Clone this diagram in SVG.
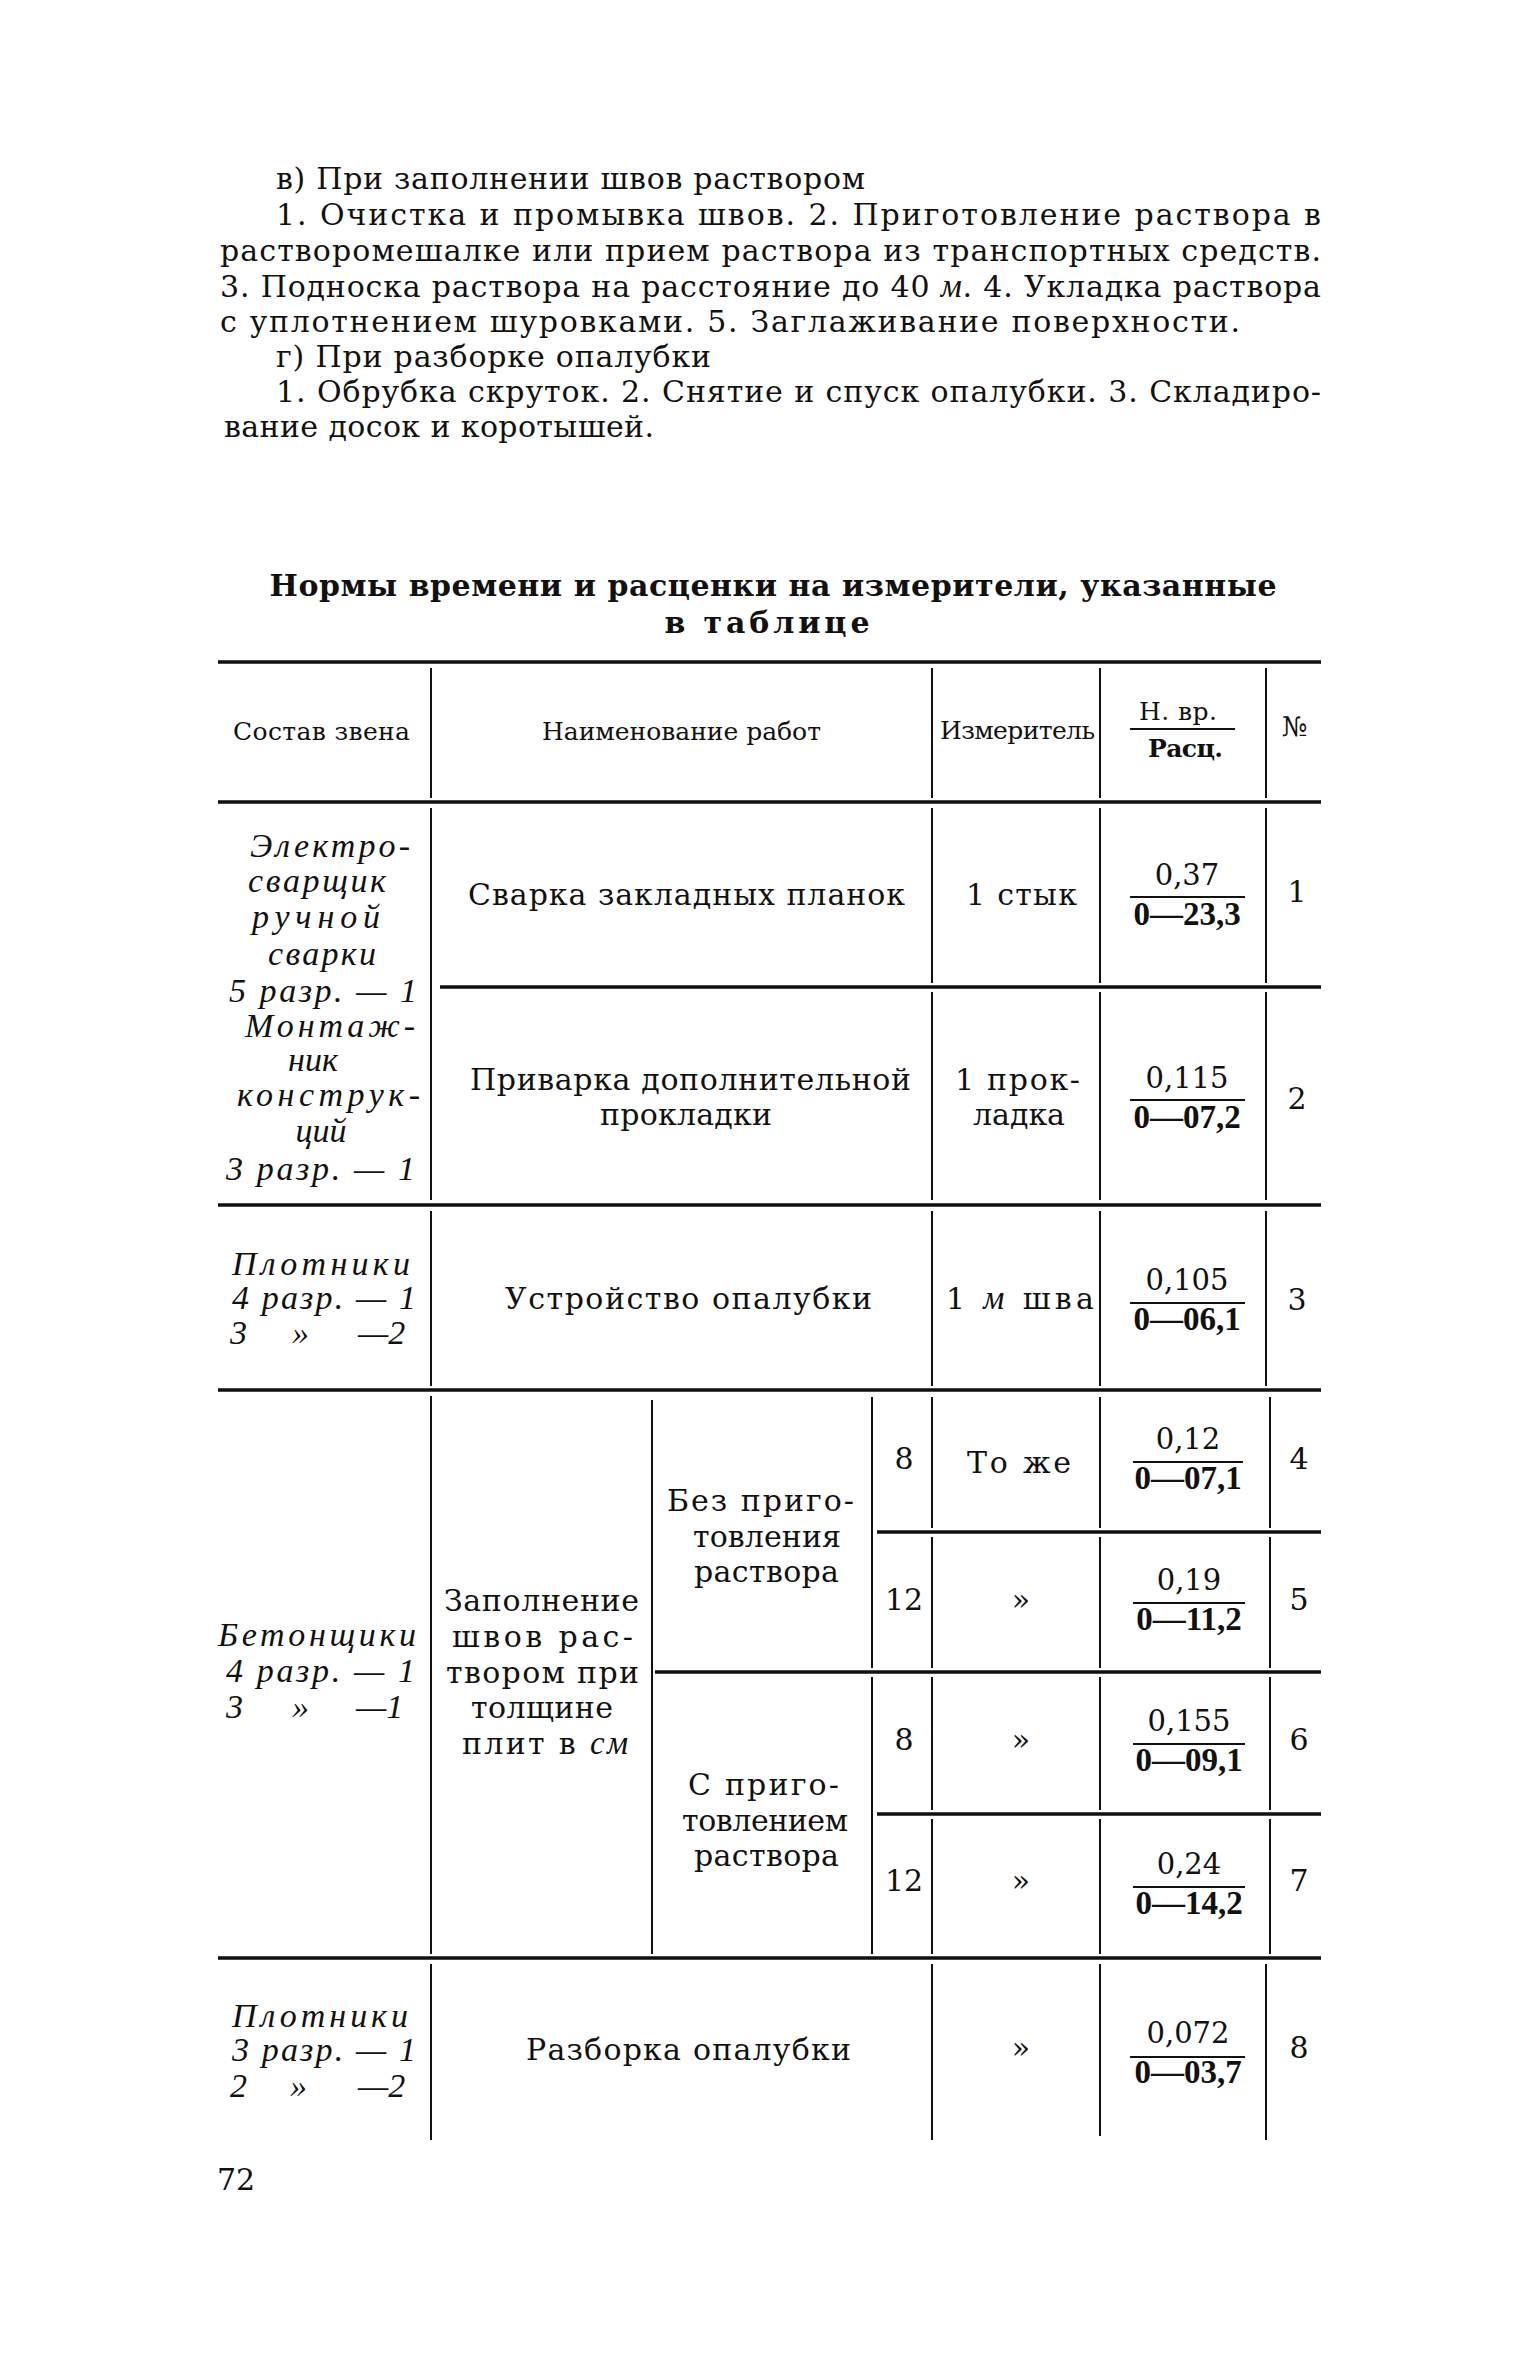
<svg xmlns="http://www.w3.org/2000/svg" width="1535" height="2362" viewBox="0 0 1535 2362">
<style>
text{fill:#111}
.p{font-family:"DejaVu Serif",serif;font-size:30px}
.t{font-family:"DejaVu Serif",serif;font-size:30px}
.h{font-family:"DejaVu Serif",serif;font-size:25px}
.hb{font-family:"DejaVu Serif",serif;font-size:25px;font-weight:bold}
.i{font-family:"Liberation Serif",serif;font-size:34px;font-style:italic}
.it{font-family:"Liberation Serif",serif;font-style:italic;font-size:33px}
.n{font-family:"DejaVu Serif",serif;font-size:29px;text-anchor:middle}
.b{font-family:"Liberation Serif",serif;font-size:33px;font-weight:bold;text-anchor:middle}
.c{text-anchor:middle}
.ttl{font-family:"DejaVu Serif",serif;font-size:30px;font-weight:bold;text-anchor:middle}
.hl{stroke:#111;stroke-width:3.5;fill:none}
.vl{stroke:#111;stroke-width:2;fill:none}
</style>
<rect width="1535" height="2362" fill="#fff"/>

<g id="paragraph">
<text class="p" x="276" y="189" textLength="589" lengthAdjust="spacing">в) При заполнении швов раствором</text>
<text class="p" x="276" y="225" textLength="1045" lengthAdjust="spacing">1. Очистка и промывка швов. 2. Приготовление раствора в</text>
<text class="p" x="220" y="261" textLength="1101" lengthAdjust="spacing">растворомешалке или прием раствора из транспортных средств.</text>
<text class="p" x="220" y="297" textLength="1101" lengthAdjust="spacing">3. Подноска раствора на расстояние до 40 <tspan class="it">м</tspan>. 4. Укладка раствора</text>
<text class="p" x="220" y="332" textLength="1020" lengthAdjust="spacing">с уплотнением шуровками. 5. Заглаживание поверхности.</text>
<text class="p" x="276" y="367" textLength="435" lengthAdjust="spacing">г) При разборке опалубки</text>
<text class="p" x="276" y="402" textLength="1045" lengthAdjust="spacing">1. Обрубка скруток. 2. Снятие и спуск опалубки. 3. Складиро-</text>
<text class="p" x="224" y="437" textLength="430" lengthAdjust="spacing">вание досок и коротышей.</text>
</g>

<g id="title">
<text class="ttl" x="773" y="596" textLength="1007" lengthAdjust="spacing">Нормы времени и расценки на измерители, указанные</text>
<text class="ttl" x="767" y="633" textLength="205" lengthAdjust="spacing">в таблице</text>
</g>

<g id="rules">
<path class="hl" d="M218 662H1321 M218 802H1321 M440 987H1321 M218 1205H1321 M218 1390H1321 M877 1532H1321 M655 1672H1321 M877 1814H1321 M218 1958H1321"/>
<path class="vl" d="M431 668V798 M932 668V798 M1100 668V798 M1266 668V798
M431 808V1200 M932 808V983 M1100 808V983 M1266 808V983 M932 992V1200 M1100 992V1200 M1266 992V1200
M431 1211V1386 M932 1211V1386 M1100 1211V1386 M1266 1211V1386
M431 1396V1954 M652 1400V1954 M872 1397V1668 M872 1677V1954
M932 1397V1528 M932 1537V1668 M932 1677V1810 M932 1819V1954
M1100 1397V1528 M1100 1537V1668 M1100 1677V1810 M1100 1819V1954
M1270 1397V1528 M1270 1537V1668 M1270 1677V1810 M1270 1819V1954
M431 1964V2140 M932 1964V2140 M1100 1964V2136 M1266 1964V2140"/>
<path class="vl" d="M1130 729H1235 M1130 897H1245 M1130 1100H1245 M1130 1303H1245 M1133 1462H1243 M1133 1603H1245 M1133 1744H1245 M1133 1887H1245 M1130 2057H1245"/>
</g>

<g id="header">
<text class="h" x="233" y="740" textLength="177" lengthAdjust="spacing">Состав звена</text>
<text class="h" x="542" y="740" textLength="279" lengthAdjust="spacing">Наименование работ</text>
<text class="h" x="940" y="739" textLength="155" lengthAdjust="spacing">Измеритель</text>
<text class="h" x="1139" y="720" textLength="78" lengthAdjust="spacing">Н. вр.</text>
<text class="hb" x="1148" y="757" textLength="75" lengthAdjust="spacing">Расц.</text>
<text class="h" x="1282" y="736" style="font-size:27px">№</text>
</g>

<g id="row1-2-crew">
<text class="i" x="250" y="857" textLength="160" lengthAdjust="spacing">Электро-</text>
<text class="i" x="248" y="892" textLength="138" lengthAdjust="spacing">сварщик</text>
<text class="i" x="252" y="928" textLength="128" lengthAdjust="spacing">ручной</text>
<text class="i" x="268" y="965" textLength="108" lengthAdjust="spacing">сварки</text>
<text class="i" x="229" y="1002" textLength="188" lengthAdjust="spacing">5 разр. — 1</text>
<text class="i" x="245" y="1037" textLength="170" lengthAdjust="spacing">Монтаж-</text>
<text class="i c" x="313" y="1071">ник</text>
<text class="i" x="237" y="1106" textLength="183" lengthAdjust="spacing">конструк-</text>
<text class="i c" x="321" y="1142">ций</text>
<text class="i" x="226" y="1180" textLength="189" lengthAdjust="spacing">3 разр. — 1</text>
</g>

<g id="row1">
<text class="t" x="468" y="905" textLength="437" lengthAdjust="spacing">Сварка закладных планок</text>
<text class="t" x="966" y="905" textLength="111" lengthAdjust="spacing">1 стык</text>
<text class="n" x="1187" y="885">0,37</text>
<text class="b" x="1187" y="925">0—23,3</text>
<text class="t c" x="1297" y="902">1</text>
</g>

<g id="row2">
<text class="t" x="470" y="1090" textLength="441" lengthAdjust="spacing">Приварка дополнительной</text>
<text class="t" x="600" y="1125" textLength="172" lengthAdjust="spacing">прокладки</text>
<text class="t" x="955" y="1090" textLength="125" lengthAdjust="spacing">1 прок-</text>
<text class="t" x="973" y="1125" textLength="92" lengthAdjust="spacing">ладка</text>
<text class="n" x="1187" y="1088">0,115</text>
<text class="b" x="1187" y="1128">0—07,2</text>
<text class="t c" x="1297" y="1109">2</text>
</g>

<g id="row3">
<text class="i" x="232" y="1275" textLength="178" lengthAdjust="spacing">Плотники</text>
<text class="i" x="232" y="1309" textLength="184" lengthAdjust="spacing">4 разр. — 1</text>
<text class="i" y="1344"><tspan x="230">3</tspan><tspan x="292">»</tspan><tspan x="358">—2</tspan></text>
<text class="t" x="505" y="1309" textLength="367" lengthAdjust="spacing">Устройство опалубки</text>
<text class="t" x="946" y="1309" textLength="148" lengthAdjust="spacing">1 <tspan class="it">м</tspan> шва</text>
<text class="n" x="1187" y="1290">0,105</text>
<text class="b" x="1187" y="1330">0—06,1</text>
<text class="t c" x="1297" y="1310">3</text>
</g>

<g id="rows4-7">
<text class="i" x="218" y="1646" textLength="198" lengthAdjust="spacing">Бетонщики</text>
<text class="i" x="226" y="1682" textLength="189" lengthAdjust="spacing">4 разр. — 1</text>
<text class="i" y="1718"><tspan x="226">3</tspan><tspan x="292">»</tspan><tspan x="356">—1</tspan></text>
<text class="t" x="444" y="1611" textLength="195" lengthAdjust="spacing">Заполнение</text>
<text class="t" x="452" y="1647" textLength="181" lengthAdjust="spacing">швов рас-</text>
<text class="t" x="446" y="1683" textLength="193" lengthAdjust="spacing">твором при</text>
<text class="t" x="471" y="1718" textLength="142" lengthAdjust="spacing">толщине</text>
<text class="t" x="462" y="1754" textLength="166" lengthAdjust="spacing">плит в <tspan class="it">см</tspan></text>
<text class="t" x="667" y="1511" textLength="187" lengthAdjust="spacing">Без приго-</text>
<text class="t" x="693" y="1547" textLength="148" lengthAdjust="spacing">товления</text>
<text class="t" x="694" y="1582" textLength="145" lengthAdjust="spacing">раствора</text>
<text class="t" x="688" y="1795" textLength="151" lengthAdjust="spacing">С приго-</text>
<text class="t" x="682" y="1831" textLength="166" lengthAdjust="spacing">товлением</text>
<text class="t" x="694" y="1866" textLength="145" lengthAdjust="spacing">раствора</text>
<text class="t c" x="904" y="1469">8</text>
<text class="t c" x="904" y="1610">12</text>
<text class="t c" x="904" y="1750">8</text>
<text class="t c" x="904" y="1891">12</text>
<text class="t" x="967" y="1473" textLength="104" lengthAdjust="spacing">То же</text>
<text class="t c" x="1021" y="1610">»</text>
<text class="t c" x="1021" y="1750">»</text>
<text class="t c" x="1021" y="1891">»</text>
<text class="n" x="1188" y="1449">0,12</text>
<text class="b" x="1188" y="1489">0—07,1</text>
<text class="n" x="1189" y="1590">0,19</text>
<text class="b" x="1189" y="1630">0—11,2</text>
<text class="n" x="1189" y="1731">0,155</text>
<text class="b" x="1189" y="1771">0—09,1</text>
<text class="n" x="1189" y="1874">0,24</text>
<text class="b" x="1189" y="1914">0—14,2</text>
<text class="t c" x="1299" y="1469">4</text>
<text class="t c" x="1299" y="1610">5</text>
<text class="t c" x="1299" y="1750">6</text>
<text class="t c" x="1299" y="1891">7</text>
</g>

<g id="row8">
<text class="i" x="232" y="2027" textLength="176" lengthAdjust="spacing">Плотники</text>
<text class="i" x="232" y="2061" textLength="184" lengthAdjust="spacing">3 разр. — 1</text>
<text class="i" y="2097"><tspan x="230">2</tspan><tspan x="290">»</tspan><tspan x="358">—2</tspan></text>
<text class="t" x="526" y="2060" textLength="325" lengthAdjust="spacing">Разборка опалубки</text>
<text class="t c" x="1021" y="2058">»</text>
<text class="n" x="1188" y="2043">0,072</text>
<text class="b" x="1188" y="2083">0—03,7</text>
<text class="t c" x="1299" y="2058">8</text>
</g>

<g id="page-number">
<text class="t" x="217" y="2190">72</text>
</g>
</svg>
